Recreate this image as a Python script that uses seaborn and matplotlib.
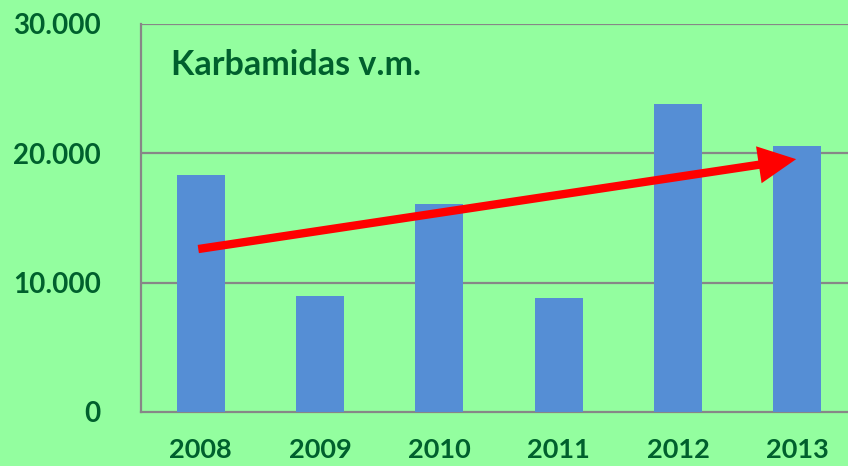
import matplotlib
matplotlib.use("Agg")
import matplotlib.pyplot as plt
import seaborn as sns
import pandas as pd

years = ["2008", "2009", "2010", "2011", "2012", "2013"]
values = [18300, 9000, 16100, 8850, 23800, 20600]
ytick_values = [0, 10000, 20000, 30000]
ytick_labels = ["0", "10.000", "20.000", "30.000"]
title_text = "Karbamidas v.m."
trend_start = (-0.02, 12600)
trend_end = (4.99, 19550)

BG = "#93FE9F"
BAR = "#558ED5"
TXT = "#00602D"
GRID = "#878787"

sns.set_theme(style="white")
plt.rcParams['font.family'] = ['Lato', 'DejaVu Sans']

fig = plt.figure(figsize=(8.48, 4.66), dpi=100)
fig.patch.set_facecolor(BG)
W, H = 848, 466
ax = fig.add_axes([141 / W, (H - 412) / H, (857 - 141) / W, (412 - 24) / H])
ax.set_facecolor(BG)

df = pd.DataFrame({"year": years, "value": values})
sns.barplot(data=df, x="year", y="value", color=BAR, width=0.4, saturation=1,
            linewidth=0, edgecolor=BAR, ax=ax, zorder=3)

ax.set_xlim(-0.5, 5.5)
ax.set_ylim(0, 30000)
ax.set_yticks(ytick_values)
ax.set_yticklabels(ytick_labels)
ax.set_xlabel("")
ax.set_ylabel("")

for y in ytick_values[1:]:
    ax.axhline(y, color=GRID, lw=1.6, zorder=1)

for s in ["top", "right"]:
    ax.spines[s].set_visible(False)
for s in ["left", "bottom"]:
    ax.spines[s].set_color(GRID)
    ax.spines[s].set_linewidth(1.6)

ax.set_xticks([i - 0.5 for i in range(6)], minor=True)
ax.tick_params(axis="x", which="major", length=0, pad=19, labelsize=19.5,
               labelcolor=TXT)
ax.tick_params(axis="x", which="minor", length=10, width=1.6, color=GRID,
               direction="out")
ax.tick_params(axis="y", length=10, width=1.6, color=GRID, direction="out",
               pad=19, labelsize=20, labelcolor=TXT)
for lab in ax.get_xticklabels() + ax.get_yticklabels():
    lab.set_fontweight("bold")

ax.text(0.042, 0.895, title_text, transform=ax.transAxes, fontsize=24.5,
        fontweight="bold", color=TXT, va="center", ha="left")

ax.annotate("", xy=trend_end, xytext=trend_start,
            arrowprops=dict(arrowstyle="-|>,head_length=0.87,head_width=0.43",
                            mutation_scale=20, joinstyle="miter",
                            capstyle="butt",
                            color="#FF0000", lw=6, shrinkA=0, shrinkB=0),
            zorder=5)

fig.savefig("out.png", dpi=100, facecolor=BG)
